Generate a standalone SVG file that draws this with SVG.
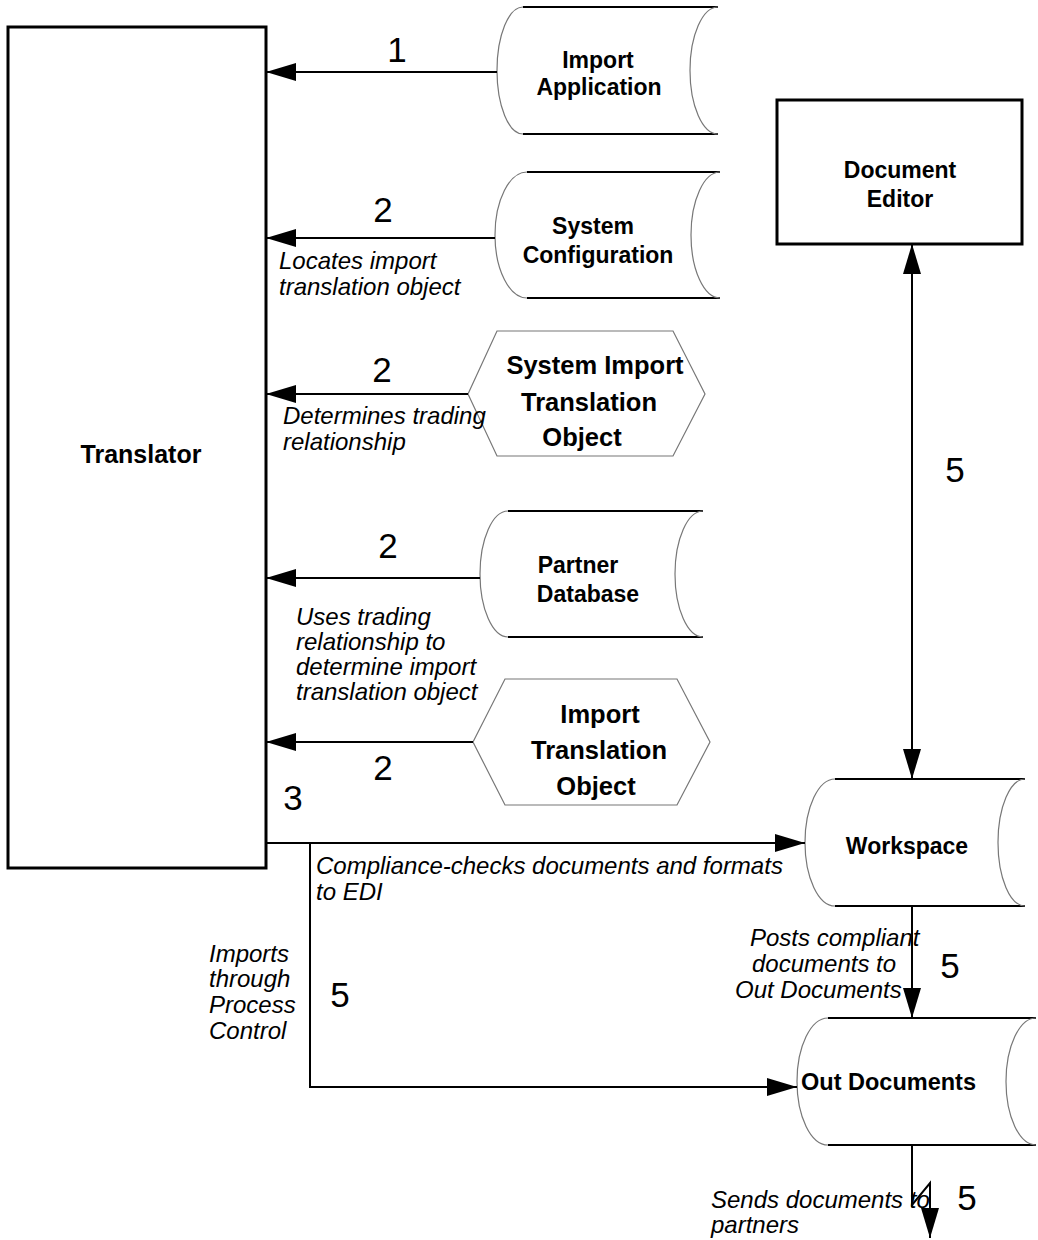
<svg xmlns="http://www.w3.org/2000/svg" width="1038" height="1240" viewBox="0 0 1038 1240">
<defs>
<marker id="arr" viewBox="0 0 30 18" refX="30" refY="9" markerWidth="30" markerHeight="18" markerUnits="userSpaceOnUse" orient="auto-start-reverse">
<path d="M0,0 L30,9 L0,18 Z" fill="#000"/>
</marker>
<style>
.box{fill:#fff;stroke:#000;stroke-width:3}
.edge{fill:none;stroke:#000;stroke-width:2}
.arc{fill:none;stroke:#777;stroke-width:1.2}
.hex{fill:#fff;stroke:#777;stroke-width:1.2}
.lbl{font-family:"Liberation Sans",Arial,sans-serif;font-weight:bold;font-size:23px;fill:#000;text-anchor:middle}
.hlbl{font-family:"Liberation Sans",Arial,sans-serif;font-weight:bold;font-size:25.5px;fill:#000;text-anchor:middle}
.num{font-family:"Liberation Sans",Arial,sans-serif;font-size:35px;fill:#000;text-anchor:middle}
.it{font-family:"Liberation Sans",Arial,sans-serif;font-style:italic;font-size:24px;fill:#000}
.conn{fill:none;stroke:#000;stroke-width:2}
</style>
</defs>
<rect width="1038" height="1240" fill="#fff"/>

<g id="translator">
<rect class="box" x="8" y="27" width="258" height="841"/>
<text class="lbl" x="141" y="463" style="font-size:25px">Translator</text>
</g>

<g id="import-application">
<path class="edge" d="M523,7 H718 M523,134 H718"/>
<path class="arc" d="M523,7 A26,63.5 0 0 0 523,134 M718,7 A28,63.5 0 0 0 718,134"/>
<text class="lbl" x="598" y="68">Import</text>
<text class="lbl" x="599" y="95">Application</text>
</g>

<g id="document-editor">
<rect class="box" x="777" y="100" width="245" height="144"/>
<text class="lbl" x="900" y="178">Document</text>
<text class="lbl" x="900" y="207">Editor</text>
</g>

<g id="system-configuration">
<path class="edge" d="M527,172 H720 M527,298 H720"/>
<path class="arc" d="M527,172 A32,63 0 0 0 527,298 M720,172 A29,63 0 0 0 720,298"/>
<text class="lbl" x="593" y="234">System</text>
<text class="lbl" x="598" y="263">Configuration</text>
</g>

<g id="system-import-translation-object">
<polygon class="hex" points="468,394 497,331 673,331 705,394 673,456 497,456"/>
<text class="hlbl" x="595" y="374">System Import</text>
<text class="hlbl" x="589" y="411">Translation</text>
<text class="hlbl" x="582" y="446">Object</text>
</g>

<g id="partner-database">
<path class="edge" d="M508,511 H703 M508,637 H703"/>
<path class="arc" d="M508,511 A28,63 0 0 0 508,637 M703,511 A28,63 0 0 0 703,637"/>
<text class="lbl" x="578" y="573">Partner</text>
<text class="lbl" x="588" y="602">Database</text>
</g>

<g id="import-translation-object">
<polygon class="hex" points="473,742 505,679 677,679 710,742 677,805 505,805"/>
<text class="hlbl" x="600" y="723">Import</text>
<text class="hlbl" x="599" y="759">Translation</text>
<text class="hlbl" x="596" y="795">Object</text>
</g>

<g id="workspace">
<path class="edge" d="M835,779 H1025 M835,906 H1025"/>
<path class="arc" d="M835,779 A30,63.5 0 0 0 835,906 M1025,779 A27,63.5 0 0 0 1025,906"/>
<text class="lbl" x="907" y="854">Workspace</text>
</g>

<g id="out-documents">
<path class="edge" d="M828,1018 H1036 M828,1145 H1036"/>
<path class="arc" d="M828,1018 A31,63.5 0 0 0 828,1145 M1036,1018 A30,63.5 0 0 0 1036,1145"/>
<text class="lbl" x="801" y="1090" style="text-anchor:start;font-size:23.5px">Out Documents</text>
</g>

<g id="connectors">
<line class="conn" x1="497" y1="72" x2="266" y2="72" marker-end="url(#arr)"/>
<line class="conn" x1="495" y1="238" x2="266" y2="238" marker-end="url(#arr)"/>
<line class="conn" x1="468" y1="394" x2="266" y2="394" marker-end="url(#arr)"/>
<line class="conn" x1="480" y1="578" x2="266" y2="578" marker-end="url(#arr)"/>
<line class="conn" x1="473" y1="742" x2="266" y2="742" marker-end="url(#arr)"/>
<line class="conn" x1="266" y1="843" x2="805" y2="843" marker-end="url(#arr)"/>
<polyline class="conn" points="310,843 310,1087 797,1087" marker-end="url(#arr)"/>
<line class="conn" x1="912" y1="244" x2="912" y2="779" marker-start="url(#arr)" marker-end="url(#arr)"/>
<line class="conn" x1="912" y1="906" x2="912" y2="1018" marker-end="url(#arr)"/>
<polyline class="conn" points="912,1145 912,1205 930,1183 930,1238" marker-end="url(#arr)"/>

<text class="num" x="397" y="62">1</text>
<text class="num" x="383" y="222">2</text>
<text class="it" x="279" y="269">Locates import</text>
<text class="it" x="279" y="295">translation object</text>
<text class="num" x="382" y="382">2</text>
<text class="it" x="283" y="424">Determines trading</text>
<text class="it" x="283" y="450">relationship</text>
<text class="num" x="388" y="558">2</text>
<text class="it" x="296" y="625">Uses trading</text>
<text class="it" x="296" y="650">relationship to</text>
<text class="it" x="296" y="675">determine import</text>
<text class="it" x="296" y="700">translation object</text>
<text class="num" x="383" y="780">2</text>
<text class="num" x="293" y="810">3</text>
<text class="it" x="316" y="874">Compliance-checks documents and formats</text>
<text class="it" x="316" y="900">to EDI</text>
<text class="it" x="209" y="962">Imports</text>
<text class="it" x="209" y="987">through</text>
<text class="it" x="209" y="1013">Process</text>
<text class="it" x="209" y="1039">Control</text>
<text class="num" x="340" y="1007">5</text>
<text class="num" x="955" y="482">5</text>
<text class="it" x="750" y="946">Posts compliant</text>
<text class="it" x="752" y="972">documents to</text>
<text class="it" x="735" y="998">Out Documents</text>
<text class="num" x="950" y="978">5</text>
<text class="it" x="711" y="1208">Sends documents to</text>
<text class="it" x="711" y="1233">partners</text>
<text class="num" x="967" y="1210">5</text>
</g>
</svg>
